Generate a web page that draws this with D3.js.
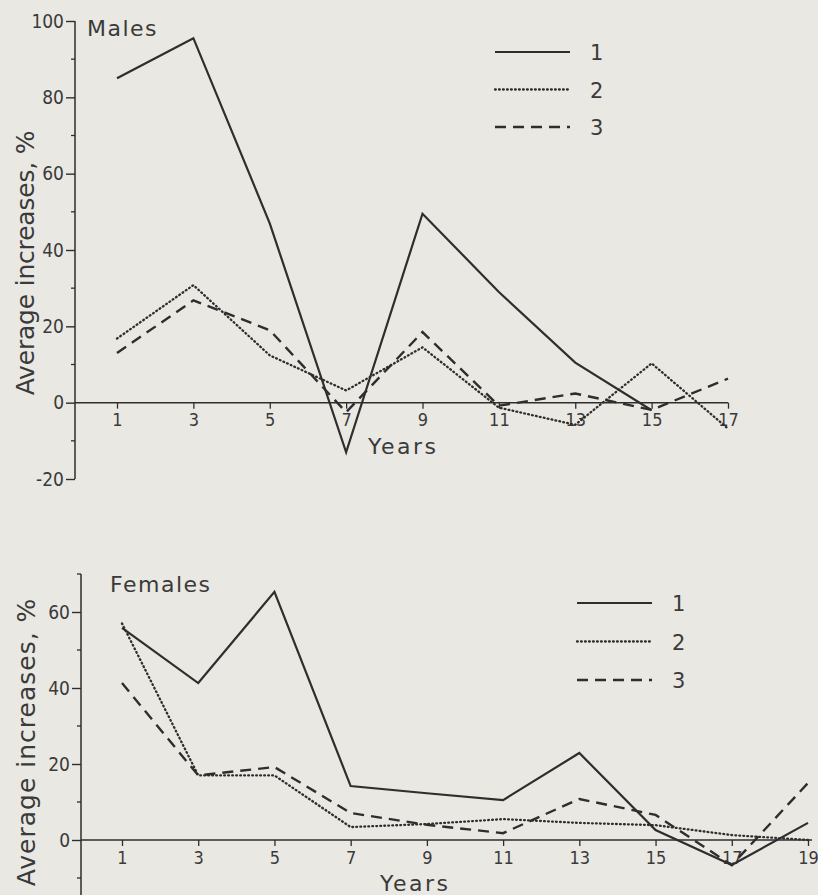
<!DOCTYPE html>
<html><head><meta charset="utf-8">
<script src="https://cdn.jsdelivr.net/npm/d3@7"></script>
<style>
html,body{margin:0;padding:0;background:#e9e8e3;}
svg{display:block;}
text{font-family:"DejaVu Sans",sans-serif;fill:#3a3a3a;}
.num{font-family:"DejaVu Sans Condensed","DejaVu Sans",sans-serif;font-stretch:condensed;}
</style></head><body>
<svg id="chart" width="818" height="895"></svg>
<script>
// ---- Data ----
const malesYears = [1,3,5,7,9,11,13,15,17];
const males1 = [85,95.5,47,-13,49.5,29,10.5,-2,null];
const males2 = [16.8,30.8,12.4,3.2,14.5,-1.3,-5.8,10.3,-6.8];
const males3 = [13,26.8,19,-2.5,18.5,-0.8,2.4,-1.9,6.3];
const malesXTicks = [1,3,5,7,9,11,13,15,17];
const malesYTicks = [-20,0,20,40,60,80,100];
const malesYMinor = [-10,10,30,50,70,90];

const femalesYears = [1,3,5,7,9,11,13,15,17,19];
const females1 = [55.8,41.3,65.3,14.2,12.3,10.5,22.9,2.6,-6.6,4.5];
const females2 = [57,17,17,3.4,4.2,5.5,4.5,3.9,1.3,0];
const females3 = [41.3,17,19.2,7.1,4,1.8,10.8,6.6,-6.6,15];
const femalesXTicks = [1,3,5,7,9,11,13,15,17,19];
const femalesYTicks = [0,20,40,60];
const femalesYMinor = [-10,10,30,50,70];

const legendLabels = ["1","2","3"];

// ---- Styles ----
const styles = [
  {dash:null, width:2.2, cap:"butt"},
  {dash:"0.8,3.2", width:2.3, cap:"round"},
  {dash:"11,7", width:2.4, cap:"butt"}
];
const ink = "#2e2e2e";
const svg = d3.select("#chart");

function panel(cfg){
  const g = svg.append("g");
  const x = d3.scaleLinear().domain(cfg.xDomain).range(cfg.xRange);
  const y = d3.scaleLinear().domain(cfg.yDomain).range(cfg.yRange);

  // y axis line
  g.append("line").attr("x1",cfg.axisX).attr("x2",cfg.axisX)
    .attr("y1",y(cfg.yAxisExtent[1])).attr("y2",y(cfg.yAxisExtent[0]))
    .attr("stroke",ink).attr("stroke-width",1.5);
  // major ticks
  const yAx = d3.axisLeft(y).tickValues(cfg.yTicks).tickSize(9).tickPadding(2).tickFormat(d=>String(d));
  const ya = g.append("g").attr("transform",`translate(${cfg.axisX},0)`).call(yAx);
  ya.select(".domain").remove();
  ya.selectAll("line").attr("stroke",ink).attr("stroke-width",1.4);
  ya.selectAll("text").attr("class","num").style("font-size","19px").attr("fill","#474747").attr("font-family",null);
  // minor ticks
  g.selectAll(".minor").data(cfg.yMinor).join("line")
    .attr("x1",cfg.axisX-4).attr("x2",cfg.axisX)
    .attr("y1",d=>y(d)).attr("y2",d=>y(d))
    .attr("stroke",ink).attr("stroke-width",1.3);

  // x axis (zero line)
  g.append("line").attr("x1",cfg.axisX).attr("x2",cfg.xAxisEnd)
    .attr("y1",y(0)).attr("y2",y(0)).attr("stroke",ink).attr("stroke-width",1.5);
  const xAx = d3.axisBottom(x).tickValues(cfg.xTicks).tickSize(6).tickPadding(5).tickFormat(d=>String(d));
  const xa = g.append("g").attr("transform",`translate(0,${y(0)})`).call(xAx);
  xa.select(".domain").remove();
  xa.selectAll("line").attr("stroke",ink).attr("stroke-width",1.3);
  xa.selectAll("text").attr("class","num").style("font-size","18px").attr("fill","#474747").attr("font-family",null);

  // series
  cfg.series.forEach((vals,i)=>{
    const line = d3.line().defined(d=>d[1]!=null).x(d=>x(d[0])).y(d=>y(d[1]));
    const pts = cfg.years.map((yr,j)=>[yr,vals[j]]);
    g.append("path").attr("d",line(pts)).attr("fill","none")
      .attr("stroke",ink).attr("stroke-width",styles[i].width)
      .attr("stroke-dasharray",styles[i].dash)
      .attr("stroke-linecap",styles[i].cap)
      .attr("stroke-linejoin","miter");
  });

  // title
  g.append("text").attr("x",cfg.titlePos[0]).attr("y",cfg.titlePos[1])
    .style("font-size","22px").style("letter-spacing","1.5px").text(cfg.title);
  // x label
  g.append("text").attr("x",cfg.xLabelPos[0]).attr("y",cfg.xLabelPos[1])
    .style("font-size","22px").style("letter-spacing","2.5px").text("Years");
  // y label
  g.append("text").attr("transform",`translate(${cfg.yLabelPos[0]},${cfg.yLabelPos[1]}) rotate(-90)`)
    .attr("text-anchor","middle").style("font-size","25px")
    .style("letter-spacing",cfg.yLabelSpacing)
    .text("Average increases, %");

  // legend
  legendLabels.forEach((lab,i)=>{
    const ly = cfg.legend.y0 + i*cfg.legend.dy;
    g.append("line").attr("x1",cfg.legend.x0).attr("x2",cfg.legend.x1)
      .attr("y1",ly).attr("y2",ly).attr("stroke",ink)
      .attr("stroke-width",styles[i].width).attr("stroke-dasharray",styles[i].dash)
      .attr("stroke-linecap",styles[i].cap);
    g.append("text").attr("x",cfg.legend.x1+20).attr("y",ly+8)
      .style("font-size","21px").text(lab);
  });
}

panel({
  years: malesYears, series:[males1,males2,males3],
  xDomain:[1,17], xRange:[117,728],
  yDomain:[-20,100], yRange:[479,21],
  yAxisExtent:[-20,100], axisX:75, xAxisEnd:728,
  xTicks: malesXTicks, yTicks: malesYTicks, yMinor: malesYMinor,
  title:"Males", titlePos:[87,36],
  xLabelPos:[368,454], yLabelPos:[34,263], yLabelSpacing:"-0.2px",
  legend:{x0:495,x1:570,y0:52,dy:37.5}
});

panel({
  years: femalesYears, series:[females1,females2,females3],
  xDomain:[1,19], xRange:[122,808],
  yDomain:[0,60], yRange:[840,612],
  yAxisExtent:[-15,70], axisX:81, xAxisEnd:812,
  xTicks: femalesXTicks, yTicks: femalesYTicks, yMinor: femalesYMinor,
  title:"Females", titlePos:[110,592],
  xLabelPos:[380,891], yLabelPos:[35,742], yLabelSpacing:"1px",
  legend:{x0:577,x1:652,y0:603,dy:38.5}
});
</script>
</body></html>
